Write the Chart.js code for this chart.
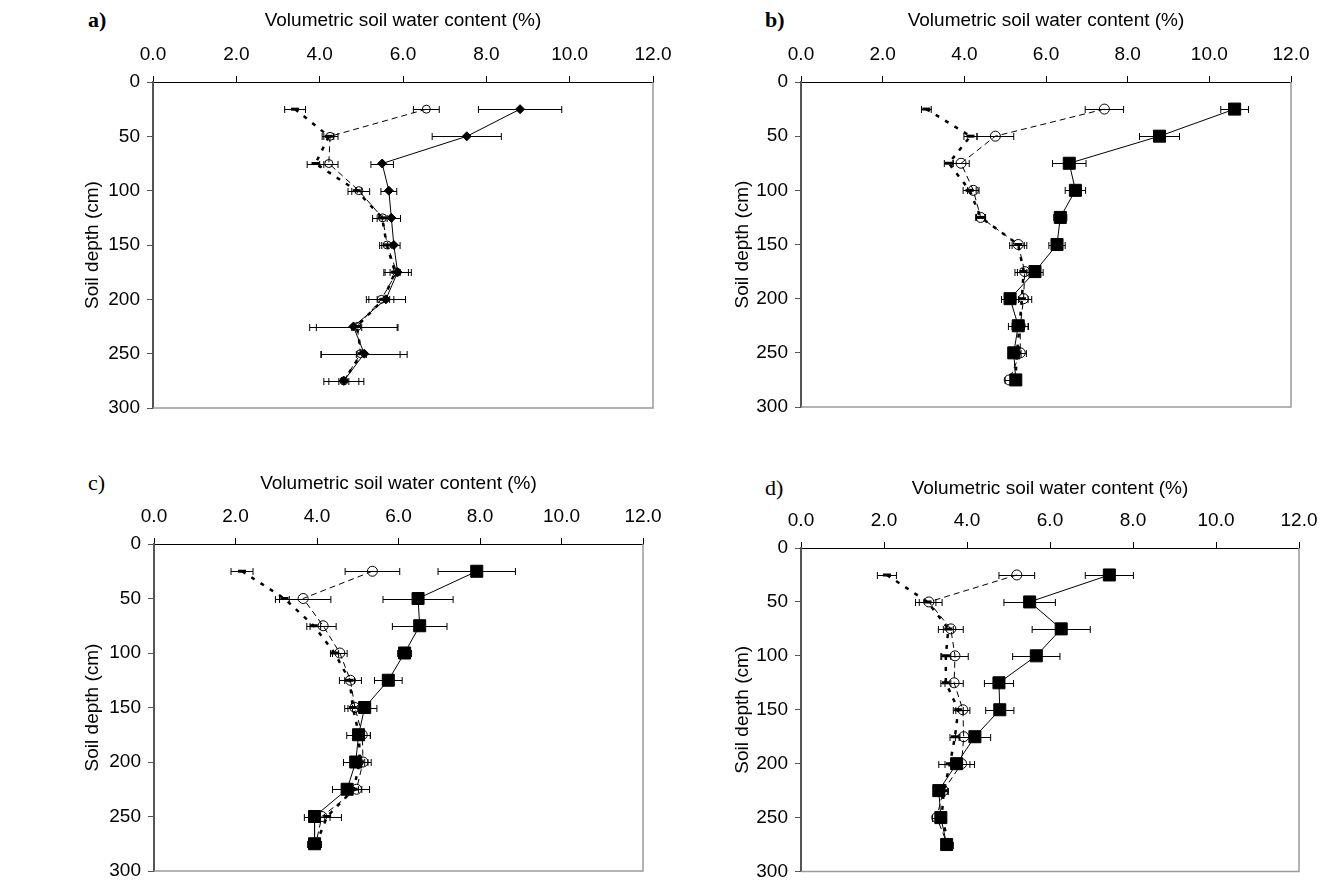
<!DOCTYPE html>
<html>
<head>
<meta charset="utf-8">
<title>Soil water content profiles</title>
<script src="https://cdn.jsdelivr.net/npm/chart.js@4.4.1/dist/chart.umd.min.js"></script>
<style>
  html, body { margin: 0; padding: 0; background: #fff; }
  body { width: 1332px; height: 881px; position: relative; overflow: hidden; }
  .panel { position: absolute; }
  .tag { position: absolute; line-height: 1; font-family: 'Liberation Serif', 'Times New Roman', serif; font-size: 22px; color: #000; }
  .tag.bold { font-weight: bold; }
</style>
</head>
<body>
  <div class="tag bold" style="left:88px;top:9px">a)</div>
  <div class="tag bold" style="left:765px;top:9px">b)</div>
  <div class="tag" style="left:88px;top:472px">c)</div>
  <div class="tag" style="left:765px;top:477px">d)</div>

  <div class="panel" style="left:0;top:0;width:700px;height:420px"><canvas id="chart-a"></canvas></div>
  <div class="panel" style="left:666px;top:0;width:666px;height:420px"><canvas id="chart-b"></canvas></div>
  <div class="panel" style="left:0;top:462px;width:666px;height:419px"><canvas id="chart-c"></canvas></div>
  <div class="panel" style="left:666px;top:466px;width:666px;height:415px"><canvas id="chart-d"></canvas></div>

<script>
// Soil depths (cm), same for every panel
const depths = [25, 50, 75, 100, 125, 150, 175, 200, 225, 250, 275];

// Axis ticks
const waterTicks = [0, 2, 4, 6, 8, 10, 12];
const depthTicks = [0, 50, 100, 150, 200, 250, 300];

// Panel a
const aSolid = [8.81, 7.53, 5.50, 5.66, 5.72, 5.78, 5.87, 5.59, 4.81, 5.07, 4.58];
const aSolidErr = [1.0, 0.83, 0.27, 0.19, 0.22, 0.15, 0.33, 0.47, 1.05, 1.03, 0.48];
const aCircle = [6.56, 4.25, 4.22, 4.94, 5.51, 5.62, 5.85, 5.48, 4.90, 4.98, 4.58];
const aCircleErr = [0.31, 0.19, 0.22, 0.26, 0.24, 0.18, 0.28, 0.30, 0.98, 0.95, 0.36];
const aDotted = [3.41, 4.22, 3.90, 4.89, 5.50, 5.61, 5.81, 5.53, 4.89, 5.00, 4.58];
const aDottedErr = [0.25, 0.12, 0.20, 0.12, 0.12, 0.12, 0.12, 0.15, 0.12, 0.12, 0.12];

// Panel b
const bSolid = [10.62, 8.78, 6.57, 6.72, 6.35, 6.27, 5.73, 5.12, 5.32, 5.21, 5.26];
const bSolidErr = [0.34, 0.49, 0.41, 0.25, 0.16, 0.20, 0.20, 0.21, 0.24, 0.10, 0.10];
const bCircle = [7.43, 4.76, 3.92, 4.22, 4.40, 5.32, 5.48, 5.45, 5.37, 5.37, 5.10];
const bCircleErr = [0.47, 0.45, 0.20, 0.14, 0.12, 0.21, 0.24, 0.20, 0.20, 0.15, 0.10];
const bDotted = [3.07, 4.15, 3.62, 4.13, 4.40, 5.32, 5.45, 5.41, 5.35, 5.29, 5.25];
const bDottedErr = [0.12, 0.16, 0.11, 0.16, 0.10, 0.15, 0.15, 0.15, 0.12, 0.10, 0.10];

// Panel c
const cSolid = [7.92, 6.48, 6.52, 6.15, 5.75, 5.17, 5.02, 4.95, 4.74, 3.94, 3.94];
const cSolidErr = [0.95, 0.86, 0.67, 0.17, 0.34, 0.30, 0.29, 0.30, 0.36, 0.25, 0.17];
const cCircle = [5.36, 3.66, 4.15, 4.56, 4.82, 4.93, 5.11, 5.13, 4.97, 4.12, 3.97];
const cCircleErr = [0.67, 0.68, 0.32, 0.18, 0.27, 0.25, 0.20, 0.20, 0.32, 0.20, 0.12];
const cDotted = [2.16, 3.20, 3.92, 4.43, 4.80, 4.88, 5.03, 5.05, 4.90, 4.25, 3.98];
const cDottedErr = [0.27, 0.12, 0.17, 0.10, 0.12, 0.12, 0.12, 0.12, 0.12, 0.35, 0.12];

// Panel d
const dSolid = [7.43, 5.51, 6.27, 5.67, 4.77, 4.79, 4.19, 3.75, 3.32, 3.37, 3.51];
const dSolidErr = [0.58, 0.62, 0.70, 0.57, 0.35, 0.34, 0.38, 0.43, 0.12, 0.12, 0.10];
const dCircle = [5.20, 3.08, 3.61, 3.71, 3.69, 3.90, 3.92, 3.87, 3.43, 3.27, 3.53];
const dCircleErr = [0.43, 0.32, 0.30, 0.32, 0.22, 0.17, 0.20, 0.20, 0.12, 0.10, 0.10];
const dDotted = [2.07, 3.05, 3.55, 3.49, 3.49, 3.79, 3.71, 3.59, 3.44, 3.39, 3.57];
const dDottedErr = [0.23, 0.20, 0.12, 0.12, 0.12, 0.12, 0.12, 0.12, 0.10, 0.10, 0.10];

const FONT = "'Liberation Sans', Arial, sans-serif";

// horizontal error bars, drawn under the markers
const errorBars = {
  id: 'errorBars',
  beforeDatasetsDraw(chart) {
    const { ctx, scales: { x, y } } = chart;
    ctx.save();
    ctx.strokeStyle = '#000';
    ctx.lineWidth = 1;
    chart.data.datasets.forEach(ds => {
      if (!ds.errors) return;
      ds.data.forEach((p, i) => {
        const e = ds.errors[i];
        const x0 = x.getPixelForValue(p.x - e);
        const x1 = x.getPixelForValue(p.x + e);
        const py = Math.round(y.getPixelForValue(p.y)) + 0.5;
        ctx.beginPath();
        ctx.moveTo(x0, py); ctx.lineTo(x1, py);
        ctx.moveTo(x0, py - 3.5); ctx.lineTo(x0, py + 3.5);
        ctx.moveTo(x1, py - 3.5); ctx.lineTo(x1, py + 3.5);
        ctx.stroke();
      });
    });
    ctx.restore();
  }
};

// grey frame on the right and bottom of the plot area
const plotFrame = {
  id: 'plotFrame',
  afterDraw(chart) {
    const { ctx, chartArea: a } = chart;
    ctx.save();
    ctx.strokeStyle = '#9a9a9a';
    ctx.lineWidth = 1.5;
    ctx.beginPath();
    ctx.moveTo(a.left, a.bottom);
    ctx.lineTo(a.right, a.bottom);
    ctx.lineTo(a.right, a.top);
    ctx.stroke();
    ctx.restore();
  }
};

const toPoints = vals => vals.map((v, i) => ({ x: v, y: depths[i] }));

function makeChart(id, series, opt) {
  const [solid, solidErr, circle, circleErr, dotted, dottedErr] = series;

  const datasets = [
    {
      data: toPoints(solid), errors: solidErr,
      borderColor: '#000', borderWidth: 1, showLine: true,
      pointStyle: opt.square ? 'rect' : 'rectRot',
      pointRadius: opt.square ? 8.5 : 4.5,
      pointBackgroundColor: '#000', pointBorderColor: '#000', pointBorderWidth: 1
    },
    {
      data: toPoints(circle), errors: circleErr,
      borderColor: '#000', borderWidth: 1, borderDash: [6, 4], showLine: true,
      pointStyle: 'circle', pointRadius: opt.square ? 5 : 4,
      pointBackgroundColor: 'rgba(0,0,0,0)', pointBorderColor: '#000', pointBorderWidth: 1
    },
    {
      data: toPoints(dotted), errors: dottedErr,
      borderColor: '#000', borderWidth: 2.5, borderDash: [4, 7], showLine: true,
      pointStyle: 'line', pointRadius: 4,
      pointBorderColor: '#000', pointBorderWidth: 3
    }
  ];

  return new Chart(document.getElementById(id), {
    type: 'scatter',
    data: { datasets },
    options: {
      responsive: true,
      maintainAspectRatio: false,
      animation: false,
      layout: { padding: { top: 0, left: 0, right: opt.padRight, bottom: opt.padBottom } },
      plugins: { legend: { display: false }, tooltip: { enabled: false } },
      scales: {
        x: {
          type: 'linear', position: 'top',
          min: waterTicks[0], max: waterTicks[waterTicks.length - 1],
          afterBuildTicks: s => { s.ticks = waterTicks.map(v => ({ value: v })); },
          afterFit: s => { s.height = 82; s.paddingLeft = 0; s.paddingRight = 0; },
          ticks: {
            color: '#000', padding: 10, maxRotation: 0,
            font: { family: FONT, size: 19 },
            callback: v => v.toFixed(1)
          },
          grid: { drawOnChartArea: false, tickLength: 6, color: '#000' },
          border: { color: '#000', width: 1 },
          title: {
            display: true, text: 'Volumetric soil water content (%)',
            color: '#000', font: { family: FONT, size: 19 },
            padding: { top: opt.xTitlePad, bottom: 0 }
          }
        },
        y: {
          type: 'linear', reverse: true,
          min: depthTicks[0], max: depthTicks[depthTicks.length - 1],
          afterBuildTicks: s => { s.ticks = depthTicks.map(v => ({ value: v })); },
          afterFit: s => { s.width = opt.yWidth; s.paddingTop = 0; s.paddingBottom = 0; },
          ticks: { color: '#000', padding: 7, font: { family: FONT, size: 19 } },
          grid: { drawOnChartArea: false, tickLength: 6, color: '#555' },
          border: { color: '#555', width: 2 },
          title: {
            display: true, text: 'Soil depth (cm)',
            color: '#000', font: { family: FONT, size: 19 },
            padding: { top: opt.yTitlePad, bottom: 0 }
          }
        }
      }
    },
    plugins: [errorBars, plotFrame]
  });
}

document.addEventListener('DOMContentLoaded', () => {
  makeChart('chart-a', [aSolid, aSolidErr, aCircle, aCircleErr, aDotted, aDottedErr],
    { square: false, yWidth: 153, padRight: 47, padBottom: 12, xTitlePad: 9, yTitlePad: 81 });
  makeChart('chart-b', [bSolid, bSolidErr, bCircle, bCircleErr, bDotted, bDottedErr],
    { square: true, yWidth: 135, padRight: 41, padBottom: 13, xTitlePad: 9, yTitlePad: 65 });
  makeChart('chart-c', [cSolid, cSolidErr, cCircle, cCircleErr, cDotted, cDottedErr],
    { square: true, yWidth: 154, padRight: 23, padBottom: 10, xTitlePad: 10, yTitlePad: 81 });
  makeChart('chart-d', [dSolid, dSolidErr, dCircle, dCircleErr, dDotted, dDottedErr],
    { square: true, yWidth: 135, padRight: 33, padBottom: 7, xTitlePad: 11, yTitlePad: 65 });
});
</script>
</body>
</html>
